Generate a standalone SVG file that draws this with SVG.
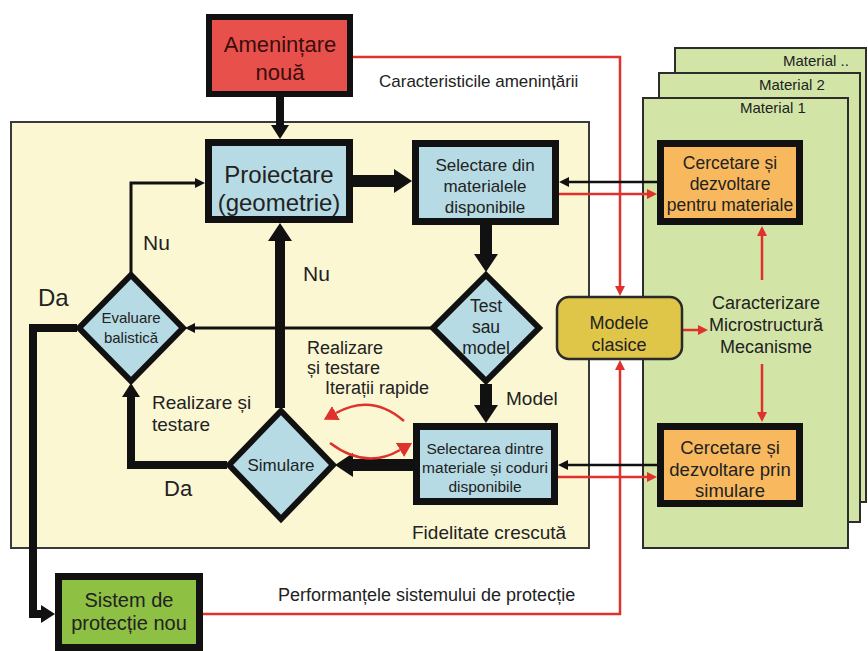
<svg xmlns="http://www.w3.org/2000/svg" width="868" height="651" viewBox="0 0 868 651">
<style>
  text { font-family: "Liberation Sans", Arial, sans-serif; fill: #222; }
  .panel { fill: #fcf7d3; stroke: #3a3a3a; stroke-width: 2; }
  .mat { fill: #d2e5a6; stroke: #2d2d2d; stroke-width: 2; }
  .blue { fill: #b6dbe4; stroke: #111; stroke-width: 7; }
  .dia { fill: #b6dbe4; stroke: #111; stroke-width: 6; }
  .orange { fill: #f8b95e; stroke: #111; stroke-width: 7; }
  .blk { fill: none; stroke: #111; }
  .red { fill: none; stroke: #e0322c; stroke-width: 2.5; }
  .c { text-anchor: middle; }
</style>
<defs>
  <marker id="arrBig" markerUnits="userSpaceOnUse" markerWidth="18" markerHeight="24" refX="0" refY="12" orient="auto"><path d="M0,0 L18,12 L0,24 z" fill="#111"/></marker>
  <marker id="arrMed" markerUnits="userSpaceOnUse" markerWidth="14" markerHeight="18" refX="0" refY="9" orient="auto"><path d="M0,0 L14,9 L0,18 z" fill="#111"/></marker>
  <marker id="arrThin" markerUnits="userSpaceOnUse" markerWidth="10" markerHeight="10" refX="0" refY="5" orient="auto"><path d="M0,0 L10,5 L0,10 z" fill="#111"/></marker>
  <marker id="arrRed" markerUnits="userSpaceOnUse" markerWidth="10" markerHeight="10" refX="0" refY="5" orient="auto"><path d="M0,0 L10,5 L0,10 z" fill="#e0322c"/></marker>
  <marker id="arrRedBig" markerUnits="userSpaceOnUse" markerWidth="14" markerHeight="16" refX="0" refY="8" orient="auto"><path d="M0,0 L14,8 L0,16 z" fill="#e0322c"/></marker>
</defs>

<!-- background panels -->
<g id="fidelitate-panel">
  <rect class="panel" x="11" y="122" width="578" height="426"/>
  <text x="412" y="539" font-size="19">Fidelitate crescută</text>
</g>
<g id="material-dots">
  <rect class="mat" x="675" y="48" width="191" height="454"/>
  <text x="783" y="66" font-size="15">Material ..</text>
</g>
<g id="material-2">
  <rect class="mat" x="659" y="73" width="201" height="449"/>
  <text x="759" y="90" font-size="15">Material 2</text>
</g>
<g id="material-1">
  <rect class="mat" x="643" y="98" width="205" height="450"/>
  <text x="740" y="113" font-size="15">Material 1</text>
</g>

<!-- connectors -->
<g id="connectors">
  <path class="red" d="M353,57 H620 V286" marker-end="url(#arrRed)"/>
  <path class="red" d="M203,614 H620 V370" marker-end="url(#arrRed)"/>
  <text x="379" y="87" font-size="17">Caracteristicile amenințării</text>
  <text x="278" y="601" font-size="18">Performanțele sistemului de protecție</text>

  <path class="blk" stroke-width="8" d="M280,97 V125" marker-end="url(#arrMed)"/>
  <path class="blk" stroke-width="12" d="M353,181 H394" marker-end="url(#arrBig)"/>
  <path class="blk" stroke-width="12" d="M486,225 V254" marker-end="url(#arrBig)"/>
  <path class="blk" stroke-width="12" d="M486,384 V405" marker-end="url(#arrBig)"/>
  <path class="blk" stroke-width="12" d="M413,465 H353" marker-end="url(#arrBig)"/>
  <path class="blk" stroke-width="3" d="M432,328 H195" marker-end="url(#arrThin)"/>
  <path class="blk" stroke-width="10" d="M280,408 V241" marker-end="url(#arrBig)"/>
  <path class="blk" stroke-width="3" d="M131,273 V183 H195" marker-end="url(#arrThin)"/>
  <path class="blk" stroke-width="8" d="M227,465 H131 V397" marker-end="url(#arrMed)"/>
  <path class="blk" stroke-width="8" d="M77,328 H33 V614 H41" marker-end="url(#arrMed)"/>

  <path class="blk" stroke-width="2.5" d="M657,182 H569" marker-end="url(#arrThin)"/>
  <path class="red" d="M559,194 H647" marker-end="url(#arrRed)"/>
  <path class="blk" stroke-width="2.5" d="M657,465 H568" marker-end="url(#arrThin)"/>
  <path class="red" d="M558,477 H647" marker-end="url(#arrRed)"/>

  <path class="red" stroke-width="4" d="M682,330 H698" marker-end="url(#arrRed)"/>
  <path class="red" stroke-width="4" d="M762,280 V236" marker-end="url(#arrRed)"/>
  <path class="red" stroke-width="4" d="M762,364 V412" marker-end="url(#arrRed)"/>

  <path class="red" stroke-width="6" d="M404,421 Q372,393 336,413" marker-end="url(#arrRedBig)"/>
  <path class="red" stroke-width="6" d="M330,443 Q366,470 400,450" marker-end="url(#arrRedBig)"/>

  <text x="143" y="250" font-size="21">Nu</text>
  <text x="303" y="281" font-size="21">Nu</text>
  <text x="38" y="306" font-size="24">Da</text>
  <text x="164" y="496" font-size="22">Da</text>
  <text x="152" y="409" font-size="19">Realizare și</text>
  <text x="152" y="431" font-size="19">testare</text>
  <text x="307" y="354" font-size="18">Realizare</text>
  <text x="307" y="374" font-size="18">și testare</text>
  <text x="325" y="394" font-size="18">Iterații rapide</text>
  <text x="506" y="405" font-size="19">Model</text>
</g>

<!-- nodes -->
<g id="amenintare">
  <rect x="209" y="17" width="141" height="77" fill="#e8514b" stroke="#111" stroke-width="6"/>
  <text class="c" x="280" y="52" font-size="22" style="fill:#3a0d0d">Amenințare</text>
  <text class="c" x="280" y="80" font-size="22" style="fill:#3a0d0d">nouă</text>
</g>
<g id="proiectare">
  <rect class="blue" x="208.5" y="142.5" width="141" height="77"/>
  <text class="c" x="279" y="183" font-size="24">Proiectare</text>
  <text class="c" x="279" y="211" font-size="24">(geometrie)</text>
</g>
<g id="selectare-materiale">
  <rect class="blue" x="415.5" y="143.5" width="140" height="78"/>
  <text class="c" x="485" y="171" font-size="17">Selectare din</text>
  <text class="c" x="485" y="192" font-size="17">materialele</text>
  <text class="c" x="485" y="213" font-size="17">disponibile</text>
</g>
<g id="test-sau-model">
  <polygon class="dia" points="486,275 539,328 486,381 433,328"/>
  <text class="c" x="486" y="312" font-size="17.5">Test</text>
  <text class="c" x="486" y="333" font-size="17.5">sau</text>
  <text class="c" x="486" y="354" font-size="17.5">model</text>
</g>
<g id="evaluare-balistica">
  <polygon class="dia" points="131,275 183,328 131,381 79,328"/>
  <text class="c" x="131" y="323" font-size="15">Evaluare</text>
  <text class="c" x="131" y="343" font-size="15">balistică</text>
</g>
<g id="simulare">
  <polygon class="dia" points="281,411 333,465 281,519 229,465"/>
  <text class="c" x="281" y="471" font-size="17">Simulare</text>
</g>
<g id="selectarea-dintre">
  <rect class="blue" x="416.5" y="426.5" width="138" height="75"/>
  <text class="c" x="485" y="454" font-size="15.5">Selectarea dintre</text>
  <text class="c" x="485" y="473" font-size="15.5">materiale și coduri</text>
  <text class="c" x="485" y="492" font-size="15.5">disponibile</text>
</g>
<g id="cercetare-materiale">
  <rect class="orange" x="660.5" y="143.5" width="139" height="78"/>
  <text class="c" x="730" y="169" font-size="17.5">Cercetare și</text>
  <text class="c" x="730" y="190" font-size="17.5">dezvoltare</text>
  <text class="c" x="730" y="211" font-size="17.5">pentru materiale</text>
</g>
<g id="caracterizare">
  <text class="c" x="766" y="309" font-size="18">Caracterizare</text>
  <text class="c" x="766" y="331" font-size="18">Microstructură</text>
  <text class="c" x="766" y="353" font-size="18">Mecanisme</text>
</g>
<g id="cercetare-simulare">
  <rect class="orange" x="660.5" y="426.5" width="139" height="77"/>
  <text class="c" x="730" y="454" font-size="18.5">Cercetare și</text>
  <text class="c" x="730" y="476" font-size="18.5">dezvoltare prin</text>
  <text class="c" x="730" y="497" font-size="18.5">simulare</text>
</g>
<g id="modele-clasice">
  <rect x="557" y="297" width="125" height="62" rx="12" fill="#dfc548" stroke="#2a2a2a" stroke-width="2.5"/>
  <text class="c" x="619" y="329" font-size="18">Modele</text>
  <text class="c" x="619" y="351" font-size="18">clasice</text>
</g>
<g id="sistem-protectie">
  <rect x="58.5" y="576.5" width="141" height="71" fill="#8dc043" stroke="#111" stroke-width="7"/>
  <text class="c" x="129" y="607" font-size="20">Sistem de</text>
  <text class="c" x="129" y="630" font-size="20">protecție nou</text>
</g>
</svg>
